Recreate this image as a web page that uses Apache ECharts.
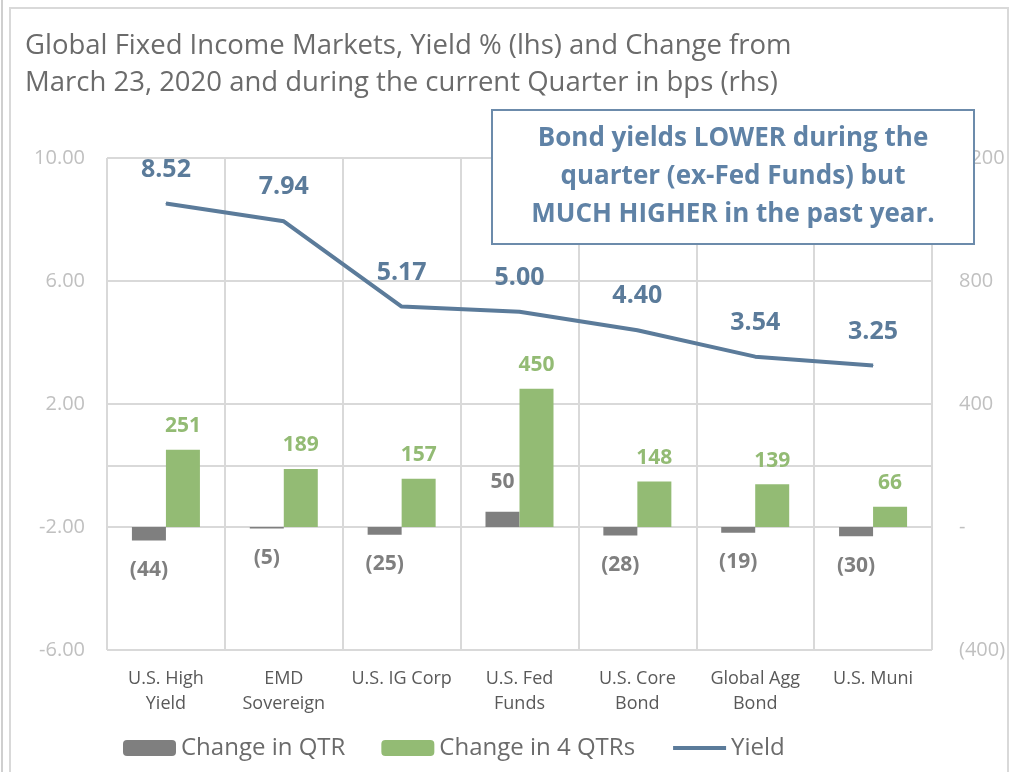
<!DOCTYPE html>
<html>
<head>
<meta charset="utf-8">
<script src="https://cdn.jsdelivr.net/npm/echarts@6/dist/echarts.min.js"></script>
<style>
html, body { margin: 0; padding: 0; background: #fff; }
#chart_1 { width: 1018px; height: 772px; }
</style>
</head>
<body>
<div id="chart_1"></div>
<script>
var categories = ['U.S. High\nYield', 'EMD\nSovereign', 'U.S. IG Corp', 'U.S. Fed\nFunds', 'U.S. Core\nBond', 'Global Agg\nBond', 'U.S. Muni'];
var changeQtr = [-44, -5, -25, 50, -28, -19, -30];
var change4Qtrs = [251, 189, 157, 450, 148, 139, 66];
var yieldPct = [8.52, 7.94, 5.17, 5.00, 4.40, 3.54, 3.25];

var font = 'Open Sans';

function bps(v) {
    if (v === 0) return '-';
    return v < 0 ? '(' + Math.abs(v) + ')' : String(v);
}

var myChart = echarts.init(document.getElementById('chart_1'));
var option = {
    animation: false,
    textStyle: { fontFamily: font },
    title: {
        text: 'Global Fixed Income Markets, Yield % (lhs) and Change from\nMarch 23, 2020 and during the current Quarter in bps (rhs)',
        left: 20,
        top: 23,
        textStyle: { fontSize: 27.5, fontWeight: 'normal', color: '#6b6b6b', lineHeight: 37, fontFamily: font }
    },
    legend: {
        left: 118,
        top: 731,
        itemWidth: 53,
        itemHeight: 16,
        itemGap: 36,
        textStyle: { fontSize: 24, color: '#6b6b6b', fontFamily: font },
        data: ['Change in QTR', 'Change in 4 QTRs', { name: 'Yield', itemStyle: { opacity: 0 }, lineStyle: { width: 4 } }]
    },
    grid: { left: 107, right: 86, top: 158, bottom: 122 },
    xAxis: {
        type: 'category',
        data: categories,
        axisTick: { show: false },
        axisLine: { show: false },
        splitLine: { show: true, lineStyle: { color: '#d9d9d9', width: 2 } },
        axisLabel: { fontSize: 18, color: '#595959', lineHeight: 25, margin: 16, interval: 0 }
    },
    yAxis: [
        {
            type: 'value',
            min: -6, max: 10, interval: 4,
            axisLine: { show: false },
            axisTick: { show: false },
            splitLine: { lineStyle: { color: '#d9d9d9', width: 2 } },
            axisLabel: { fontSize: 20, color: '#c0c0c0', margin: 22, formatter: function (v) { return v.toFixed(2); } }
        },
        {
            type: 'value',
            min: -400, max: 1200, interval: 400,
            axisLine: { show: false },
            axisTick: { show: false },
            splitLine: { show: false },
            axisLabel: { fontSize: 20, color: '#c0c0c0', margin: 27, formatter: bps }
        }
    ],
    series: [
        {
            name: 'Change in QTR',
            type: 'bar',
            yAxisIndex: 1,
            data: changeQtr,
            barWidth: 34,
            barGap: '0%',
            itemStyle: { color: '#7f7f7f' },
            label: {
                show: true,
                position: 'outside',
                distance: 19,
                fontSize: 21,
                fontWeight: 'bold',
                color: '#7f7f7f',
                formatter: function (p) { return bps(p.value); }
            }
        },
        {
            name: 'Change in 4 QTRs',
            type: 'bar',
            yAxisIndex: 1,
            data: change4Qtrs,
            barWidth: 34,
            barGap: '0%',
            itemStyle: { color: '#93bb74' },
            label: {
                show: true,
                position: 'top',
                distance: 13,
                fontSize: 21,
                fontWeight: 'bold',
                color: '#93bb74'
            }
        },
        {
            name: 'Yield',
            type: 'line',
            yAxisIndex: 0,
            data: yieldPct,
            symbol: 'circle',
            symbolSize: 1,
            showSymbol: true,
            lineStyle: { color: '#5b7b9a', width: 4 },
            itemStyle: { color: '#5b7b9a' },
            label: {
                show: true,
                position: 'top',
                distance: 21,
                fontSize: 25,
                fontWeight: 'bold',
                color: '#5b7b9a',
                formatter: function (p) { return p.value.toFixed(2); }
            },
            markLine: {
                silent: true,
                z: 1,
                symbol: 'none',
                label: { show: false },
                lineStyle: { color: '#d9d9d9', width: 2, type: 'solid' },
                data: [{ yAxis: 0 }]
            }
        }
    ],
    graphic: [
        { type: 'rect', z: 0, shape: { x: 10, y: 8, width: 998, height: 780 }, style: { fill: 'none', stroke: '#d9d9d9', lineWidth: 2 } },
        { type: 'line', z: 0, shape: { x1: 2, y1: 0, x2: 2, y2: 772 }, style: { stroke: '#bfbfbf', lineWidth: 1.5 } },
        { type: 'rect', z: 100, zlevel: 1, shape: { x: 492, y: 110, width: 482, height: 134 }, style: { fill: '#ffffff', stroke: '#6c8bab', lineWidth: 2 } },
        {
            type: 'text',
            z: 101, zlevel: 1,
            x: 733, y: 177,
            style: {
                text: 'Bond yields LOWER during the\nquarter (ex-Fed Funds) but\nMUCH HIGHER in the past year.',
                align: 'center', verticalAlign: 'middle',
                font: 'bold 26px ' + font,
                lineHeight: 38,
                fill: '#5f82a6'
            }
        }
    ]
};

if (option && typeof option === 'object')
    myChart.setOption(option);
window.addEventListener('resize', function () {
    myChart.resize();
});
</script>
</body>
</html>
